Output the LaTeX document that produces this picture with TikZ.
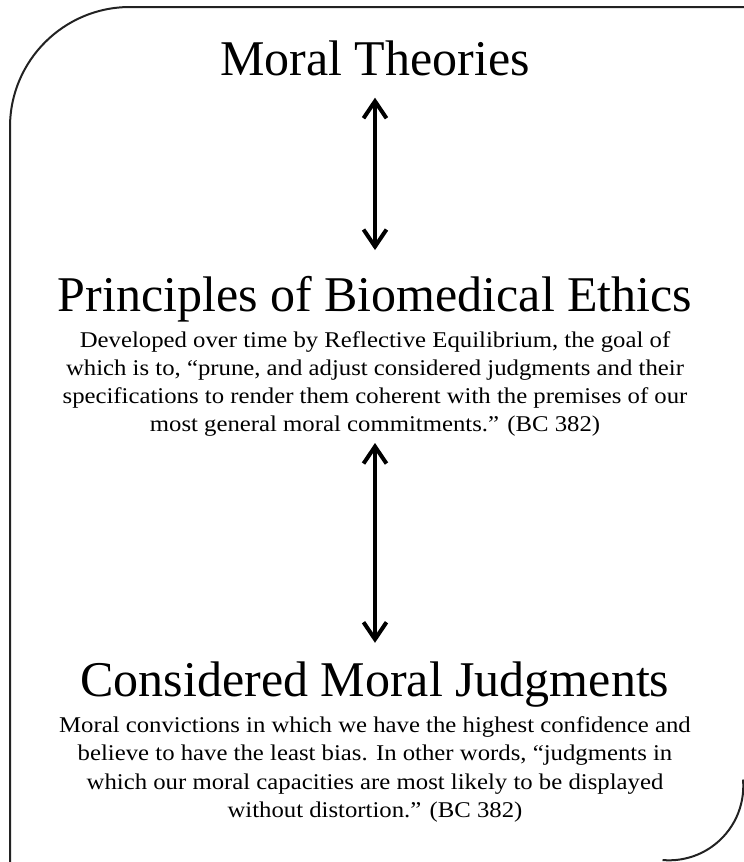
\documentclass[tikz,border=0pt]{standalone}
\usepackage{fontspec}
\setmainfont{Liberation Serif}
\newfontfamily\notefamily[FakeStretch=1.1]{Liberation Serif}
\usetikzlibrary{arrows.meta}
\definecolor{frameink}{HTML}{222222}
\newcommand{\headfont}{\fontsize{50}{60}\selectfont}
\newcommand{\notefont}{\notefamily\fontsize{22.5}{28.3}\selectfont}

\begin{document}
\begin{tikzpicture}[x=1pt, y=-1pt,
  heading/.style={anchor=base, inner sep=0pt, font=\headfont},
  note/.style={anchor=north, inner sep=0pt, align=center, font=\notefont},
  link/.style={line width=4pt,
    {Straight Barb[length=17pt, width=23pt]}-{Straight Barb[length=17pt, width=23pt]}}]

  \useasboundingbox (0,0) rectangle (744,862);
  \clip (0,0) rectangle (744,862);

  % frame
  \draw[frameink, line width=2pt, rounded corners=120pt] (10,900) -- (10,7) -- (780,7);
  \draw[frameink, line width=2pt] (669,786) ++(-5:74.3) arc[start angle=-5, end angle=95, radius=74.3];

  \node[heading] (theories) at (375,75) {Moral Theories};

  \node[heading] (principles) at (375,311.5) {Principles of Biomedical Ethics};
  \node[note] (principlesnote) at (375,331) {Developed over time by Reflective Equilibrium, the goal of\\
    which is to, “prune, and adjust considered judgments and their\\
    specifications to render them coherent with the premises of our\\
    most general moral commitments.” (BC 382)};

  \node[heading] (judgments) at (375,696.7) {Considered Moral Judgments};
  \node[note] (judgmentsnote) at (375,716.5) {Moral convictions in which we have the highest confidence and\\
    believe to have the least bias. In other words, “judgments in\\
    which our moral capacities are most likely to be displayed\\
    without distortion.” (BC 382)};

  \draw[link, shorten <=22pt, shorten >=26pt] (theories.south) -- (principles.north);
  \draw[link, shorten <=6pt, shorten >=19pt] (principlesnote.south) -- (judgments.north);

\end{tikzpicture}
\end{document}
